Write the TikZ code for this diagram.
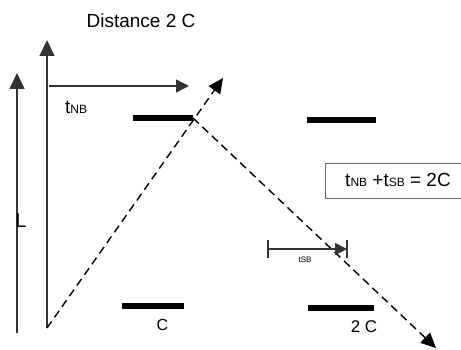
\documentclass[tikz,border=0pt]{standalone}
\usepackage{fontspec}
\setmainfont{Liberation Sans}
\usetikzlibrary{arrows.meta}
\newcommand{\smallcap}[1]{{\fontsize{12}{14}\selectfont #1}}
\begin{document}
\begin{tikzpicture}[
  x=1pt,y=-1pt,
  axis/.style={line width=1.5pt,draw=black!80,-{Triangle[length=16pt,width=15pt]}},
  timer/.style={line width=1.3pt,draw=black!80,-{Triangle[length=13pt,width=13pt]}},
  signal/.style={line width=1.4pt,dash pattern=on 8pt off 5pt,-{Triangle[length=15pt,width=14pt]}},
  bar/.style={line width=5.5pt},
  lbl/.style={inner sep=0pt,font=\fontsize{16}{19}\selectfont},
]
  \useasboundingbox (0,0) rectangle (461,350);
  % axes
  \coordinate (a1) at (17,333);  \coordinate (a1t) at (17,73);
  \coordinate (a2) at (47,328);  \coordinate (a2t) at (47,40);
  \draw[axis] (a1) -- (a1t);
  \draw[axis] (a2) -- (a2t);
  \coordinate (h1) at (49,86);   \coordinate (h1t) at (189,86);
  \draw[timer] (h1) -- (h1t);
  % bars
  \coordinate (b1l) at (133,118); \coordinate (b1r) at (193,118);
  \coordinate (b2l) at (307,120); \coordinate (b2r) at (376,120);
  \coordinate (b3l) at (122,306); \coordinate (b3r) at (184,306);
  \coordinate (b4l) at (308,308); \coordinate (b4r) at (374,308);
  \draw[bar] (b1l) -- (b1r);
  \draw[bar] (b2l) -- (b2r);
  \draw[bar] (b3l) -- (b3r);
  \draw[bar] (b4l) -- (b4r);
  % signals
  \coordinate (s1t) at (223,78);
  \coordinate (s2t) at (436,348);
  \draw[signal] (a2) -- (s1t);
  \draw[signal] (b1r) -- (s2t);
  % tsb interval
  \coordinate (m1) at (268,249); \coordinate (m2) at (347,249);
  \draw[timer,-{Triangle[length=12pt,width=12pt]}] (m1) -- (m2);
  \draw[line width=1.3pt,black!80] ([yshift=-9]m1) -- ([yshift=9]m1);
  \draw[line width=1.3pt,black!80] ([yshift=-9]m2) -- ([yshift=9]m2);
  % labels
  \node[lbl,font=\fontsize{19}{22}\selectfont,anchor=base] (title) at (141,28) {Distance 2 C};
  \node[lbl,font=\fontsize{19}{22}\selectfont,anchor=base west] (tnb) at (65,114) {t\smallcap{NB}};
  \node[lbl,font=\fontsize{20}{24}\selectfont,anchor=base west] (len) at (15.3,228) {L};
  \node[lbl,anchor=base] (c1) at (162.5,330) {C};
  \node[lbl,font=\fontsize{17}{20}\selectfont,anchor=base] (c2) at (364,332) {2 C};
  \node[inner sep=0pt,font=\fontsize{8}{9}\selectfont,anchor=base] (tsb) at (305,262) {tSB};
  \draw[line width=0.9pt,black!60] (325,163) rectangle (470,198);
  \node[lbl,font=\fontsize{19}{22}\selectfont,anchor=base] (sum) at (398,187) {t\smallcap{NB} +t\smallcap{SB} = 2C};
\end{tikzpicture}
\end{document}
